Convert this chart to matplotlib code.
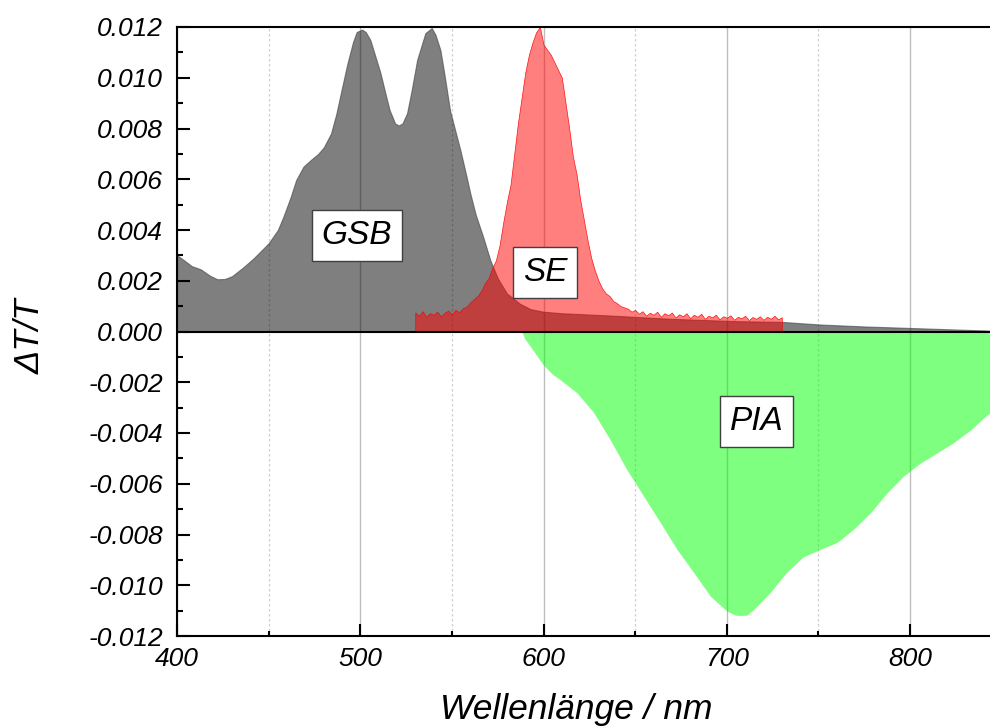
import numpy as np
import matplotlib
matplotlib.use("Agg")
import matplotlib.pyplot as plt
from matplotlib.ticker import MultipleLocator, FixedLocator, FixedFormatter

plt.rcParams['font.family'] = ['Liberation Sans', 'DejaVu Sans']
plt.rcParams['font.style'] = 'italic'

# ---- data ----
gsb_wl = [400, 404, 408, 413, 418, 422, 426, 430, 436, 442, 450, 455, 458, 462, 465,
          469, 473, 477, 480, 484, 487, 490, 493, 496, 498, 501, 503, 505.5, 508, 511,
          514, 516, 519, 521, 523, 525.5, 528, 531, 535.5, 539, 541, 543.7, 546, 549,
          554.6, 558, 560, 563, 567, 571, 575, 580, 587, 593, 600, 610, 622, 642, 649,
          670, 704, 730, 750, 775, 800, 825, 846]
gsb_val = [0.00301, 0.0028, 0.00258, 0.00245, 0.0022, 0.00206, 0.00207, 0.00218, 0.00252,
           0.0029, 0.00348, 0.0040, 0.00452, 0.0053, 0.00597, 0.0065, 0.00676, 0.0070,
           0.00725, 0.0078, 0.0086, 0.0096, 0.01057, 0.0114, 0.0118, 0.0119, 0.0118,
           0.01149, 0.0109, 0.01019, 0.0093, 0.00873, 0.0082, 0.00812, 0.0082, 0.0086,
           0.0095, 0.0107, 0.01176, 0.01196, 0.0117, 0.0111, 0.0101, 0.0087, 0.00715,
           0.0061, 0.00545, 0.0046, 0.00374, 0.0028, 0.0021, 0.0015, 0.0011, 0.00088,
           0.00078, 0.00072, 0.00068, 0.00061, 0.00058, 0.0005, 0.00041, 0.00038,
           0.00028, 0.0002, 0.00014, 0.00008, 0.00003]

se_wl = np.arange(530, 731, 2)
se_val = [0.00075, 0.00062, 0.00080, 0.00058, 0.00072, 0.00066, 0.00078, 0.00060, 0.00074, 0.00082,
          0.00068, 0.00085, 0.00076, 0.00092, 0.00098, 0.00115, 0.00128, 0.00140, 0.0016, 0.0019,
          0.0021, 0.0025, 0.0028, 0.0034, 0.0043, 0.0051, 0.0058, 0.0070, 0.0082, 0.0092,
          0.0102, 0.0109, 0.0114, 0.0118, 0.0120, 0.0113, 0.0111, 0.0109, 0.0106, 0.0103,
          0.0100, 0.0090, 0.0080, 0.0069, 0.0062, 0.0052, 0.0044, 0.0036, 0.0029, 0.0024,
          0.0020, 0.0017, 0.0015, 0.0014, 0.0012, 0.00112, 0.0010, 0.00095, 0.0009, 0.00078,
          0.00085, 0.00070, 0.00080, 0.00062, 0.00074, 0.00066, 0.00078, 0.00058, 0.00072, 0.00064,
          0.00075, 0.00055, 0.00068, 0.00060, 0.00072, 0.00052, 0.00066, 0.00058, 0.00070, 0.00050,
          0.00062, 0.00056, 0.00066, 0.00048, 0.00060, 0.00054, 0.00064, 0.00046, 0.00058, 0.00052,
          0.00062, 0.00045, 0.00057, 0.00050, 0.00060, 0.00046, 0.00058, 0.00050, 0.00062, 0.00048,
          0.00056]

pia_wl = [588.3, 590, 593, 600, 605, 609, 618.4, 627.5, 636.6, 645.7, 654.8, 664, 673, 682,
          691.3, 700.4, 705, 707.7, 711, 715, 724, 733, 742, 751.4, 760.5, 769.6, 778.7,
          787.8, 797, 806, 815, 824, 833.3, 842.4, 846]
pia_val = [0.0, -0.0003, -0.0006, -0.00132, -0.0017, -0.0019, -0.00243, -0.0032, -0.00428,
           -0.00546, -0.0065, -0.00755, -0.0086, -0.0095, -0.01045, -0.01104, -0.0112,
           -0.01121, -0.0112, -0.01097, -0.0103, -0.0095, -0.0089, -0.0086, -0.00833,
           -0.0078, -0.00716, -0.00637, -0.0057, -0.0052, -0.0048, -0.0044, -0.0039,
           -0.0033, -0.0031]

labels = ['GSB', 'SE', 'PIA']
label_x = [498.2, 600.8, 716.2]
label_y = [0.0038, 0.00234, -0.00353]

xticks = [400, 500, 600, 700, 800]
xtick_labels = ['400', '500', '600', '700', '800']
yticks = [-0.012, -0.010, -0.008, -0.006, -0.004, -0.002, 0.0, 0.002, 0.004, 0.006, 0.008, 0.010, 0.012]
ytick_labels = ['-0.012', '-0.010', '-0.008', '-0.006', '-0.004', '-0.002', '0.000',
                '0.002', '0.004', '0.006', '0.008', '0.010', '0.012']

# ---- figure ----
W, H = 990, 727
fig = plt.figure(figsize=(W / 100, H / 100), dpi=100)
ax = fig.add_axes([177 / W, 1 - 636 / H, (990 - 177) / W, (636 - 27) / H])

ax.set_xlim(400, 843.6)
ax.set_ylim(-0.012, 0.012)

# grid
for x in [450, 550, 650, 750, 850]:
    ax.axvline(x, color='#cfcfcf', lw=0.9, ls=(0, (2, 2)), zorder=0)
for x in xticks:
    ax.axvline(x, color='#bdbdbd', lw=1.0, zorder=0)

ax.fill_between(gsb_wl, 0, gsb_val, facecolor=(0, 0, 0, 0.5), edgecolor=(0.25, 0.25, 0.25, 0.6),
                lw=0.8, zorder=1)
ax.fill_between(se_wl, 0, se_val, facecolor=(1, 0, 0, 0.5), edgecolor=(1, 0, 0, 0.9),
                lw=0.5, zorder=2)
ax.fill_between(pia_wl, 0, pia_val, facecolor=(0, 1, 0, 0.5), edgecolor='none', lw=0, zorder=2)

ax.axhline(0, color='black', lw=1.5, zorder=4)

for t, x, y in zip(labels, label_x, label_y):
    ax.text(x, y, t, fontsize=24, ha='center', va='center', zorder=6,
            bbox=dict(boxstyle='square,pad=0.3', fc='white', ec='#404040', lw=1))

# axes styling
ax.spines['right'].set_visible(False)
for s in ['left', 'bottom', 'top']:
    ax.spines[s].set_linewidth(1.5)

ax.xaxis.set_major_locator(FixedLocator(xticks))
ax.xaxis.set_major_formatter(FixedFormatter(xtick_labels))
ax.xaxis.set_minor_locator(MultipleLocator(50))
ax.yaxis.set_major_locator(FixedLocator(yticks))
ax.yaxis.set_major_formatter(FixedFormatter(ytick_labels))
ax.yaxis.set_minor_locator(MultipleLocator(0.001))

ax.tick_params(axis='x', which='major', direction='in', length=8.6, width=1.5, pad=8,
               labelsize=19, top=False)
ax.tick_params(axis='x', which='minor', direction='in', length=3.8, width=1.5, top=False)
ax.tick_params(axis='y', which='major', direction='in', length=9, width=1.5, pad=10,
               labelsize=19, right=False)
ax.tick_params(axis='y', which='minor', direction='in', length=4.3, width=1.5, right=False)

fig.text(30 / W, 1 - 336 / H, 'ΔT/T', rotation=90, ha='center', va='center', fontsize=25)
fig.text(576.5 / W, 1 - 719 / H, 'Wellenlänge / nm', ha='center', va='baseline', fontsize=25.5)

fig.savefig('out.png', dpi=100)
